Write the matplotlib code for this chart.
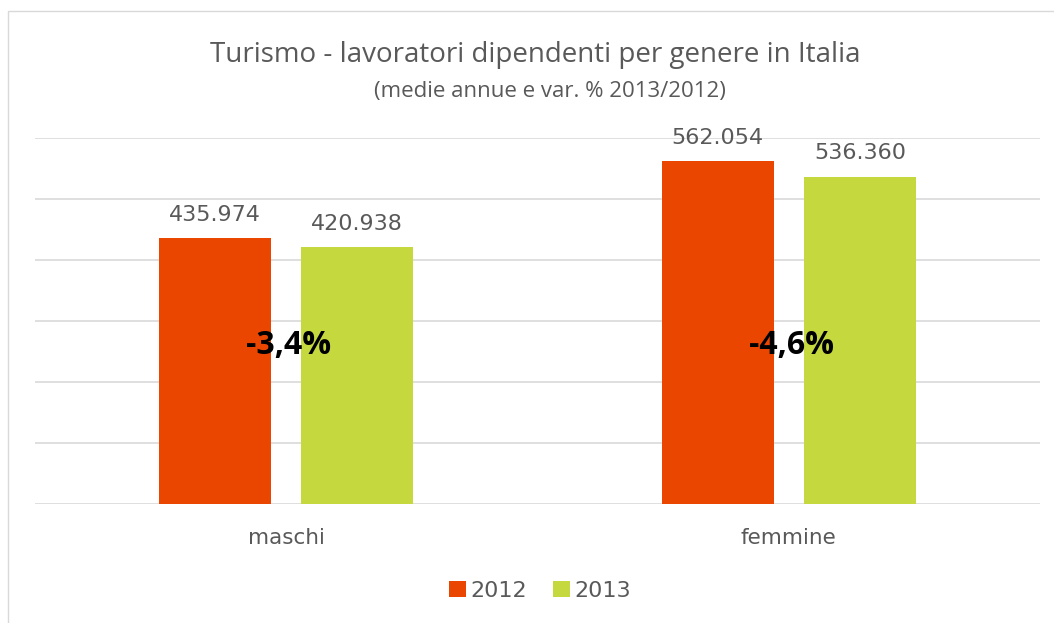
import matplotlib.pyplot as plt
import numpy as np
from matplotlib.patches import Rectangle

categories = ["maschi", "femmine"]
years = ["2012", "2013"]
values_2012 = [435974, 562054]
values_2013 = [420938, 536360]
variations = ["-3,4%", "-4,6%"]

colors = ["#EB4600", "#C5D83E"]
grey = "#595959"

plt.rcParams['font.family'] = ['Open Sans', 'DejaVu Sans']

fig = plt.figure(figsize=(10.54, 6.23), dpi=100)

# bordo del grafico
fig.patches.append(Rectangle((8 / 1054, -0.01), 1.1, 1 - 11 / 623 + 0.01,
                             transform=fig.transFigure, fill=False,
                             edgecolor="#D9D9D9", linewidth=1))

ax = fig.add_axes([35 / 1054, 1 - 504 / 623, 1005 / 1054, 366 / 623])

x = np.arange(len(categories))
width = 0.223
offset = 0.1415

bars1 = ax.bar(x - offset, values_2012, width, color=colors[0], label=years[0], zorder=2)
bars2 = ax.bar(x + offset, values_2013, width, color=colors[1], label=years[1], zorder=2)

for bars in (bars1, bars2):
    for b in bars:
        v = b.get_height()
        ax.text(b.get_x() + b.get_width() / 2, v + 22000,
                f"{v:,}".replace(",", "."), ha="center", va="bottom",
                fontsize=16, color=grey, family="DejaVu Sans")

for i, t in enumerate(variations):
    ax.text(x[i] + 0.005, 260000, t, ha="center", va="center",
            fontsize=23, fontweight="bold", color="black", zorder=3)

ax.set_xlim(-0.5, 1.5)
ax.set_ylim(0, 600000)
ax.set_yticks(np.arange(0, 600001, 100000))
ax.yaxis.grid(True, color="#D9D9D9", linewidth=1.2, zorder=0)
ax.tick_params(axis="y", left=False, labelleft=False)
ax.tick_params(axis="x", bottom=False, pad=14)
ax.set_xticks(x)
ax.set_xticklabels(categories, fontsize=15.5, color=grey, family="DejaVu Sans")
for s in ax.spines.values():
    s.set_visible(False)

fig.text(535 / 1054, 1 - 55 / 623, "Turismo - lavoratori dipendenti per genere in Italia",
         ha="center", va="center", fontsize=20, color=grey)
fig.text(550 / 1054, 1 - 91 / 623, "(medie annue e var. % 2013/2012)",
         ha="center", va="center", fontsize=16, color=grey)

fig.legend(loc="center", bbox_to_anchor=(540 / 1054, 1 - 591 / 623), ncol=2,
           frameon=False, handlelength=0.75, handleheight=0.75, handletextpad=0.2,
           columnspacing=1.2, prop={"family": "DejaVu Sans", "size": 16},
           labelcolor=grey)

fig.savefig("out.png", dpi=100)
